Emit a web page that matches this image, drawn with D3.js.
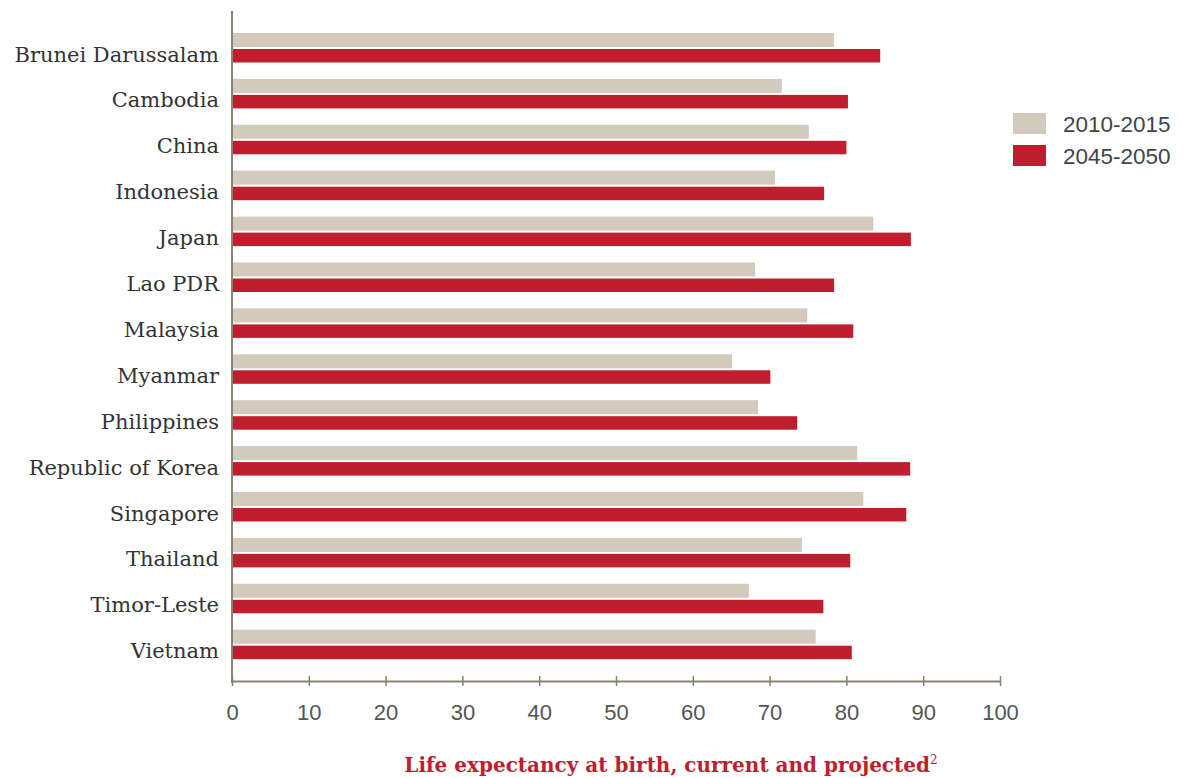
<!DOCTYPE html>
<html><head><meta charset="utf-8">
<script src="https://cdn.jsdelivr.net/npm/d3@7"></script>
<style>body{margin:0;background:#fff}svg{display:block}</style>
</head><body>
<svg id="c" width="1191" height="778"></svg>
<script>
const categories = ["Brunei Darussalam","Cambodia","China","Indonesia","Japan","Lao PDR","Malaysia","Myanmar","Philippines","Republic of Korea","Singapore","Thailand","Timor-Leste","Vietnam"];
const values2010 = [78.4,71.6,75.1,70.7,83.5,68.1,74.9,65.1,68.5,81.4,82.2,74.2,67.3,76.0];
const values2045 = [84.4,80.2,80.0,77.1,88.4,78.4,80.9,70.1,73.6,88.3,87.8,80.5,77.0,80.7];
const seriesNames = ["2010-2015","2045-2050"];
const xTicks = [0,10,20,30,40,50,60,70,80,90,100];
const title = "Life expectancy at birth, current and projected";

const colors = ["#d3c9bd","#be1e2d"];
const svg = d3.select("#c");
const x = d3.scaleLinear().domain([0,100]).range([232,1000]);
const y = d3.scaleBand().domain(categories).range([33,33+45.9*14]).paddingInner(0).paddingOuter(0);

const g = svg.append("g");
categories.forEach((c,i)=>{
  const y0 = y(c);
  g.append("rect").attr("x",x(0)).attr("y",y0).attr("width",x(values2010[i])-x(0)).attr("height",14).attr("fill",colors[0]);
  g.append("rect").attr("x",x(0)).attr("y",y0+16).attr("width",x(values2045[i])-x(0)).attr("height",13.5).attr("fill",colors[1]);
  g.append("text").attr("x",219).attr("y",y0+28.5).attr("text-anchor","end")
    .attr("font-family","DejaVu Serif").attr("font-size",21).attr("fill","#333").text(c);
});

// y axis line
svg.append("line").attr("x1",232).attr("x2",232).attr("y1",11).attr("y2",683).attr("stroke","#8a8170").attr("stroke-width",2);
// x axis
const xa = svg.append("g").attr("transform","translate(0,681)")
  .call(d3.axisBottom(x).tickValues(xTicks).tickSize(0).tickPadding(0));
xa.select(".domain").attr("stroke","#8a8170").attr("stroke-width",2);
xa.selectAll(".tick line").remove();
xa.selectAll(".tick").append("line").attr("y1",-5).attr("y2",5).attr("stroke","#8a8170").attr("stroke-width",1.5);
xa.selectAll(".tick text").attr("y",39).attr("font-family","Liberation Sans").attr("font-size",22).attr("fill","#555").attr("dy",0);

// legend
seriesNames.forEach((s,i)=>{
  const ly = 113 + i*32;
  svg.append("rect").attr("x",1013).attr("y",ly).attr("width",33).attr("height",21).attr("fill",colors[i]);
  svg.append("text").attr("x",1063).attr("y",ly+18.5).attr("font-family","Liberation Sans").attr("font-size",22.5).attr("fill","#444").text(s);
});

// title
const t = svg.append("text").attr("x",671).attr("y",772).attr("text-anchor","middle")
  .attr("font-family","DejaVu Serif").attr("font-weight","bold").attr("font-size",20).attr("fill","#be1e2d");
t.append("tspan").text(title);
t.append("tspan").attr("font-size",12).attr("font-weight","normal").attr("dy",-8).text("2");
</script>
</body></html>
